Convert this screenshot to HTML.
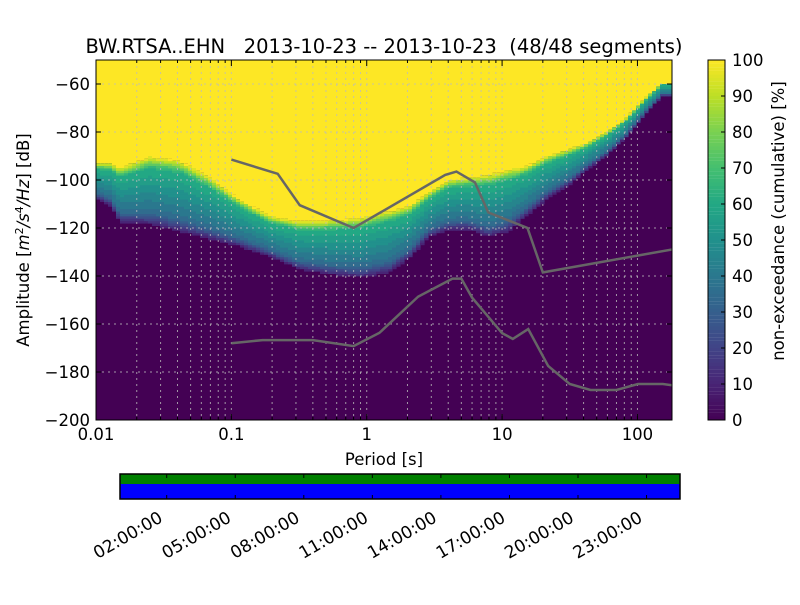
<!DOCTYPE html>
<html><head><meta charset="utf-8"><style>
body{margin:0;background:#fff;width:800px;height:600px;overflow:hidden}
svg text{font-family:"DejaVu Sans","Liberation Sans",sans-serif;fill:#000}
</style></head><body>
<svg id="chart" width="800" height="600" viewBox="0 0 800 600" xmlns="http://www.w3.org/2000/svg">
<defs><clipPath id="clip"><rect x="96" y="60" width="576" height="360"/></clipPath></defs>
<text x="384" y="53" font-size="19.5" text-anchor="middle" xml:space="preserve" style="white-space:pre">BW.RTSA..EHN   2013-10-23 -- 2013-10-23  (48/48 segments)</text>
<g id="heat" clip-path="url(#clip)"></g>
<g id="grid"></g>
<g id="models" clip-path="url(#clip)"></g>
<rect x="96" y="60" width="576" height="360" fill="none" stroke="#000" stroke-width="1"/>
<g id="axes"></g>
<text x="384" y="465" font-size="16.5" text-anchor="middle">Period [s]</text>
<text transform="translate(29,240) rotate(-90)" font-size="16.5" text-anchor="middle">Amplitude [<tspan font-style="italic">m</tspan><tspan font-size="11" dy="-6">2</tspan><tspan dy="6" font-style="italic">/s</tspan><tspan font-size="11" dy="-6">4</tspan><tspan dy="6" font-style="italic">/Hz</tspan>] [dB]</text>
<g id="cbar"></g>
<text transform="translate(784,221) rotate(-90)" font-size="16.5" text-anchor="middle">non-exceedance (cumulative) [%]</text>
<g id="timeline"></g>
</svg>
<script>
const periods=[0.01,0.0127,0.015,0.0249,0.0415,0.069,0.114,0.19,0.316,0.52,0.9,1.46,2.06,2.87,4.0,5.6,7.9,11.0,15.4,21.6,30,42,59,83,116,152,180];
const lowEdge=[-108,-111,-118,-119,-122,-125,-128,-132,-137.5,-139.6,-141,-139,-133,-124,-121,-121,-124,-122,-115,-108,-103,-96,-90,-82,-72,-65,-65];
const highEdge=[-93,-93,-95,-90.4,-92,-99,-108,-115,-117.5,-117,-116,-113,-111,-105,-100,-99,-98,-96,-94,-90,-87.5,-84.6,-80,-74,-65.4,-59.6,-59.6];
const nhnm=[[0.1,-91.5],[0.22,-97.4],[0.32,-110.5],[0.8,-120],[3.8,-97.9],[4.6,-96.5],[6.3,-101],[7.9,-113.5],[15.4,-120],[20,-138.5],[354.8,-126]];
const nlnm=[[0.1,-168],[0.17,-166.7],[0.4,-166.7],[0.8,-169.2],[1.24,-163.7],[2.4,-148.6],[4.3,-141.1],[5,-141.1],[6,-149],[10,-163.8],[12,-166.2],[15.6,-162.1],[21.9,-177.5],[31.6,-185],[45,-187.5],[70,-187.5],[101,-185],[154,-185],[328,-187.5]];
const yTicks=[-200,-180,-160,-140,-120,-100,-80,-60];
const xTicks=[0.01,0.1,1,10,100];
const xTickLabels=["0.01","0.1","1","10","100"];
const cTicks=[0,10,20,30,40,50,60,70,80,90,100];
const timeTicks=["02:00:00","05:00:00","08:00:00","11:00:00","14:00:00","17:00:00","20:00:00","23:00:00"];
const timeHours=[2,5,8,11,14,17,20,23];

const NS="http://www.w3.org/2000/svg";
const X0=96,X1=672,Y0=60,Y1=420,DBMIN=-200,DBMAX=-50,LMIN=-2,LMAX=Math.log10(180);
const xs=p=>X0+(Math.log10(p)-LMIN)/(LMAX-LMIN)*(X1-X0);
const ys=d=>Y1-(d-DBMIN)/(DBMAX-DBMIN)*(Y1-Y0);
function el(t,a,parent){const e=document.createElementNS(NS,t);for(const k in a)e.setAttribute(k,a[k]);parent.appendChild(e);return e;}
const V=[[68,1,84],[72,36,117],[65,68,135],[53,95,141],[42,120,142],[33,145,140],[34,168,132],[68,191,112],[122,209,81],[189,223,38],[253,231,37]];
function vir(t){t=Math.max(0,Math.min(1,t));const f=t*10,i=Math.min(9,Math.floor(f)),r=f-i;const a=V[i],b=V[i+1];return `rgb(${Math.round(a[0]+(b[0]-a[0])*r)},${Math.round(a[1]+(b[1]-a[1])*r)},${Math.round(a[2]+(b[2]-a[2])*r)})`;}
function interp(arr,p){const lp=Math.log10(p);for(let i=0;i<periods.length-1;i++){const a=Math.log10(periods[i]),b=Math.log10(periods[i+1]);if(lp<=b){const r=(lp-a)/(b-a);return arr[i]+(arr[i+1]-arr[i])*Math.max(0,r);}}return arr[arr.length-1];}
function shape(t){
  if(t<0.2)return 0.05+t/0.2*0.3;
  if(t<0.85)return 0.35+(t-0.2)/0.65*0.28;
  return 0.63+(t-0.85)/0.15*0.35;
}

const heat=document.getElementById('heat');
const bg=el('rect',{x:X0,y:Y0,width:X1-X0,height:Y1-Y0,fill:vir(0)},heat);


const NC=144,dbStep=1;
for(let c=0;c<NC;c++){
  const lp=LMIN+(c+0.5)/NC*(LMAX-LMIN),p=Math.pow(10,lp);
  const lo=interp(lowEdge,p),hi=interp(highEdge,p);
  const x=X0+c*(X1-X0)/NC,w=(X1-X0)/NC+0.6;
  const top=Math.round(hi);
  const yr=el('rect',{x:x,y:Y0,width:w,height:Math.max(0,ys(top)-Y0),fill:vir(1)},heat);
  
  
  for(let d=Math.floor(lo);d<top;d+=dbStep){
    let t=(d+0.5-lo)/(hi-lo);
    if(t<=0.02)continue;
    const q=Math.round(shape(t)*20)/20;
    const r=el('rect',{x:x,y:ys(d+dbStep),width:w,height:2.4*dbStep+0.4,fill:vir(q)},heat);
    
    
  }
}
const grid=document.getElementById('grid');
for(let e=-2;e<=2;e++)for(let m=1;m<10;m++){const p=m*Math.pow(10,e);if(p<=0.01||p>=180)continue;const X=xs(p);
  const g=el('line',{x1:X,x2:X,y1:Y0,y2:Y1,stroke:'#bbb','stroke-dasharray':'2,4','stroke-width':1,'stroke-opacity':0.8},grid);
  
  }
yTicks.forEach(v=>{const Y=ys(v);const g=el('line',{x1:X0,x2:X1,y1:Y,y2:Y,stroke:'#bbb','stroke-dasharray':'2,4','stroke-width':1,'stroke-opacity':0.8},grid);
  
  });
const models=document.getElementById('models');
[[nhnm,'nhnm-line'],[nlnm,'nlnm-line']].forEach(([d,n])=>{
  const pl=el('polyline',{points:d.map(q=>xs(q[0])+','+ys(q[1])).join(' '),fill:'none',stroke:'#666','stroke-width':2.5},models);
  
  });
const axes=document.getElementById('axes');
yTicks.forEach(v=>{const Y=ys(v);
  el('line',{x1:X0,x2:X0+5,y1:Y,y2:Y,stroke:'#000'},axes);el('line',{x1:X1-5,x2:X1,y1:Y,y2:Y,stroke:'#000'},axes);
  const t=el('text',{x:X0-6,y:Y+6,'font-size':16.5,'text-anchor':'end'},axes);t.textContent=String(v).replace('-','\u2212');
  
  });
xTicks.forEach((v,i)=>{const X=xs(v);
  el('line',{x1:X,x2:X,y1:Y1,y2:Y1-6,stroke:'#000'},axes);el('line',{x1:X,x2:X,y1:Y0,y2:Y0+6,stroke:'#000'},axes);
  const t=el('text',{x:X,y:Y1+20,'font-size':16.5,'text-anchor':'middle'},axes);t.textContent=xTickLabels[i];
  
  });
for(let e=-2;e<=2;e++)for(let m=2;m<10;m++){const p=m*Math.pow(10,e);if(p>=180)continue;const X=xs(p);
  el('line',{x1:X,x2:X,y1:Y1,y2:Y1-3,stroke:'#000'},axes);el('line',{x1:X,x2:X,y1:Y0,y2:Y0+3,stroke:'#000'},axes);}
const cb=document.getElementById('cbar');const CX=708,CW=17;
for(let i=0;i<100;i++){const r=el('rect',{x:CX,y:Y1-(i+1)*3.6,width:CW,height:3.7,fill:vir((i+0.5)/100)},cb);
  
  }
el('rect',{x:CX,y:Y0,width:CW,height:360,fill:'none',stroke:'#000'},cb);
cTicks.forEach(v=>{const Y=Y1-v*3.6;el('line',{x1:CX+CW-4,x2:CX+CW,y1:Y,y2:Y,stroke:'#000'},cb);
  const t=el('text',{x:CX+CW+7,y:Y+6,'font-size':16.5},cb);t.textContent=v;
  
  });
const tl=document.getElementById('timeline');const TX0=120,TX1=680,hour=22.85;
const g1=el('rect',{x:TX0,y:474,width:TX1-TX0,height:10,fill:'#008000'},tl);


const b1=el('rect',{x:TX0,y:484,width:TX1-TX0,height:15,fill:'#0000ff'},tl);


el('rect',{x:TX0,y:474,width:TX1-TX0,height:25,fill:'none',stroke:'#000','stroke-width':1.5},tl);
timeHours.forEach((h,i)=>{const X=TX0+h*hour+1;
  el('line',{x1:X,x2:X,y1:474,y2:478,stroke:'#000'},tl);el('line',{x1:X,x2:X,y1:499,y2:495,stroke:'#000'},tl);
  const t=el('text',{transform:`translate(${X-3},${521}) rotate(-30)`,'font-size':17,'text-anchor':'end'},tl);t.textContent=timeTicks[i];
  
  });
</script>
</body></html>
